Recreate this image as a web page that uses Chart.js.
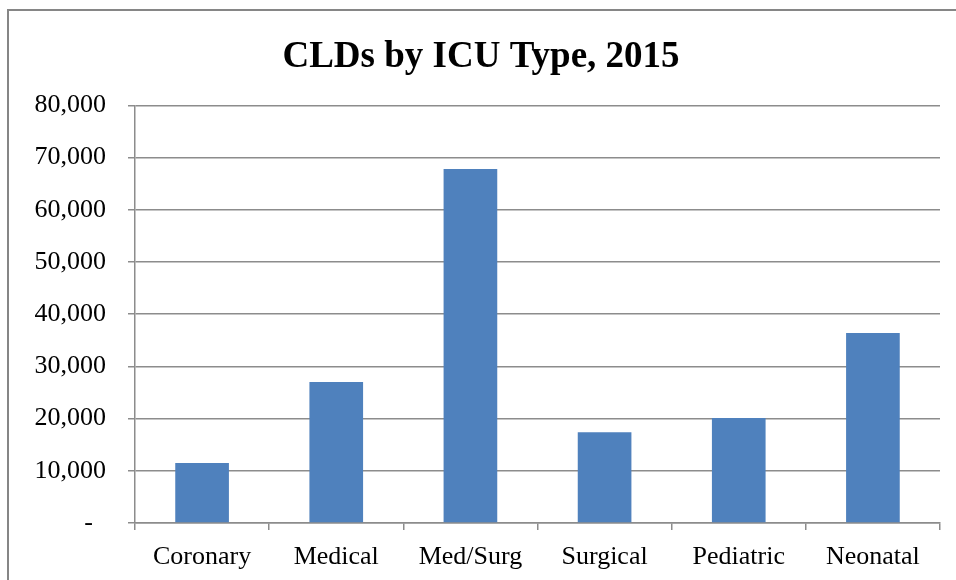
<!DOCTYPE html>
<html>
<head>
<meta charset="utf-8">
<script src="https://cdn.jsdelivr.net/npm/chart.js@4"></script>
<style>
  html, body { margin: 0; padding: 0; background: #fff; }
</style>
</head>
<body>
<canvas id="icuChart" width="956" height="580"></canvas>
<script>
const categories = ['Coronary', 'Medical', 'Med/Surg', 'Surgical', 'Pediatric', 'Neonatal'];
const cldValues = [11500, 27000, 67800, 17400, 20100, 36400];
const yMax = 80000;
const yStep = 10000;

const gridGrey = '#8c8c8c';

// outer frame of the chart object, runs off the right and bottom edge
const framePlugin = {
    id: 'frame',
    beforeDraw(chart) {
        const ctx = chart.ctx;
        ctx.save();
        ctx.fillStyle = '#fff';
        ctx.fillRect(0, 0, chart.width, chart.height);
        ctx.strokeStyle = '#868686';
        ctx.lineWidth = 2;
        ctx.strokeRect(8, 10, 1200, 1000);
        ctx.restore();
    }
};

function formatTick(value) {
    if (value === 0) return '-  ';
    return value.toLocaleString('en-US');
}

let ctx = document.getElementById('icuChart').getContext('2d');
let icuChart = new Chart(ctx, {
    type: 'bar',
    data: {
        labels: categories,
        datasets: [{
            data: cldValues,
            backgroundColor: '#4f81bd',
            categoryPercentage: 1.0,
            barPercentage: 0.4
        }]
    },
    options: {
        responsive: false,
        animation: false,
        layout: {
            padding: { left: 22, right: 16, top: 0, bottom: 0 }
        },
        plugins: {
            legend: { display: false },
            tooltip: { enabled: false },
            title: {
                display: true,
                text: 'CLDs by ICU Type, 2015',
                color: '#000',
                font: { family: '"Liberation Serif", "Times New Roman", serif', size: 37, weight: 'bold' },
                padding: { top: 35, bottom: 26 }
            }
        },
        scales: {
            x: {
                afterFit(scale) { scale.height = 57; },
                border: { display: true, color: gridGrey, width: 1.5 },
                grid: {
                    offset: true,
                    drawOnChartArea: false,
                    drawTicks: true,
                    tickLength: 7,
                    color: gridGrey,
                    lineWidth: 1.5
                },
                ticks: {
                    color: '#000',
                    padding: 12,
                    font: { family: '"Liberation Serif", "Times New Roman", serif', size: 26 }
                }
            },
            y: {
                min: 0,
                max: yMax,
                afterFit(scale) { scale.width = 113; },
                border: { display: true, color: gridGrey, width: 1.5 },
                grid: {
                    color: gridGrey,
                    lineWidth: 1.5,
                    drawTicks: true,
                    tickLength: 7
                },
                ticks: {
                    stepSize: yStep,
                    color: '#000',
                    padding: 22,
                    font: { family: '"Liberation Serif", "Times New Roman", serif', size: 26 },
                    callback: formatTick
                }
            }
        }
    },
    plugins: [framePlugin]
});
</script>
</body>
</html>
